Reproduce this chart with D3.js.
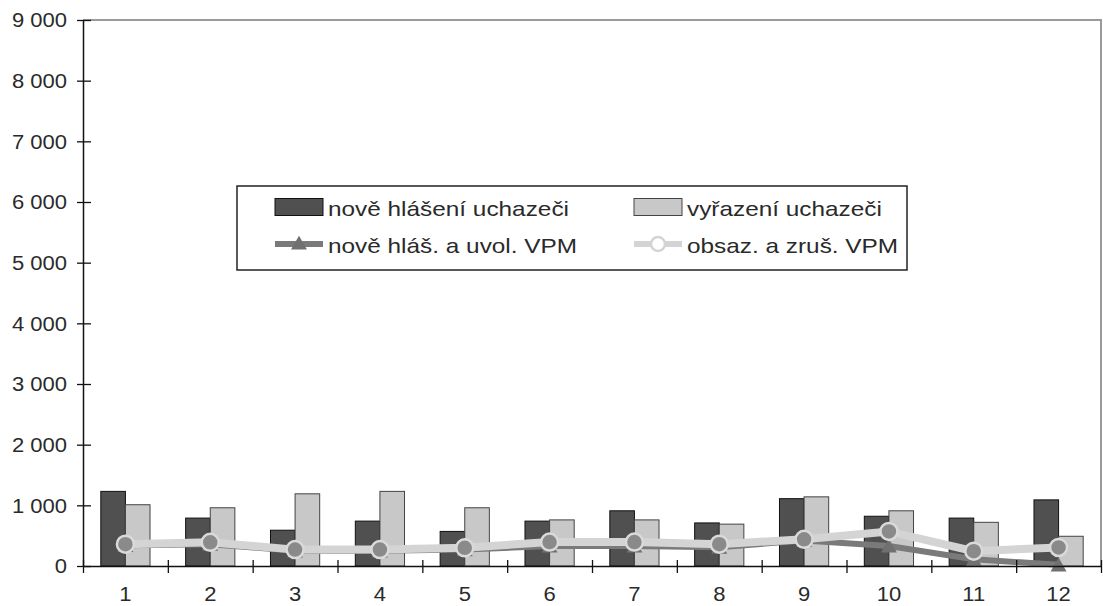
<!DOCTYPE html>
<html>
<head>
<meta charset="utf-8">
<script src="https://cdn.jsdelivr.net/npm/d3@7"></script>
<style>
  body { margin: 0; background: #fff; }
  svg { display: block; font-family: "Liberation Sans", Arial, sans-serif; }
</style>
</head>
<body>
<div id="chart"></div>
<script>
// months 1..12
const categories = ["1", "2", "3", "4", "5", "6", "7", "8", "9", "10", "11", "12"];
const noveHlaseni = [1230, 790, 590, 740, 570, 740, 910, 710, 1110, 820, 790, 1090];
const vyrazeni = [1010, 960, 1190, 1230, 960, 760, 760, 690, 1140, 910, 720, 490];
const noveVPM = [340, 360, 250, 250, 270, 330, 330, 310, 420, 330, 110, 20];
const obsazVPM = [360, 390, 270, 270, 300, 395, 395, 360, 440, 570, 245, 305];
const yTicks = [0, 1000, 2000, 3000, 4000, 5000, 6000, 7000, 8000, 9000];
const seriesNames = ["nově hlášení uchazeči", "vyřazení uchazeči", "nově hláš. a uvol. VPM", "obsaz. a zruš. VPM"];

const W = 1103, H = 606;
const plotL = 83, plotR = 1101, plotT = 20, plotB = 566;
const textColor = "#2a2a2a";
const stretch = 1.13;

const svg = d3.select("#chart").append("svg")
    .attr("width", W).attr("height", H);

const x0 = d3.scaleBand().domain(categories).range([plotL, plotR])
    .paddingInner(0.42).paddingOuter(0.21);
const x1 = d3.scaleBand().domain([0, 1]).range([0, x0.bandwidth()]);
const y = d3.scaleLinear().domain([0, 9000]).range([plotB, plotT]);
const cx = c => x0(c) + x0.bandwidth() / 2;

// plot frame (top + right)
svg.append("path")
    .attr("d", `M${plotL},${plotT}H${plotR}V${plotB}`)
    .attr("fill", "none").attr("stroke", "#9a9a9a").attr("stroke-width", 2);

// bars
const barData = categories.map((c, i) => [
    { c, s: 0, v: noveHlaseni[i] },
    { c, s: 1, v: vyrazeni[i] }
]).flat();

svg.append("g").selectAll("rect")
    .data(barData)
    .join("rect")
    .attr("x", d => x0(d.c) + x1(d.s))
    .attr("y", d => y(d.v))
    .attr("width", x1.bandwidth())
    .attr("height", d => y(0) - y(d.v))
    .attr("fill", d => d.s === 0 ? "#505050" : "#c8c8c8")
    .attr("stroke", d => d.s === 0 ? "#111" : "#444")
    .attr("stroke-width", 1);

// lines
const line = d3.line().x(d => cx(d[0])).y(d => y(d[1]));
const tri = d3.symbol().type(d3.symbolTriangle).size(110);

svg.append("path")
    .datum(categories.map((c, i) => [c, noveVPM[i]]))
    .attr("d", line)
    .attr("fill", "none").attr("stroke", "#7a7a7a").attr("stroke-width", 6);
svg.append("g").selectAll("path")
    .data(categories.map((c, i) => [c, noveVPM[i]]))
    .join("path")
    .attr("d", tri)
    .attr("transform", d => `translate(${cx(d[0])},${y(d[1]) + 2})`)
    .attr("fill", "#707070");

svg.append("path")
    .datum(categories.map((c, i) => [c, obsazVPM[i]]))
    .attr("d", line)
    .attr("fill", "none").attr("stroke", "#d4d4d4").attr("stroke-width", 8);
svg.append("g").selectAll("circle")
    .data(categories.map((c, i) => [c, obsazVPM[i]]))
    .join("circle")
    .attr("cx", d => cx(d[0]))
    .attr("cy", d => y(d[1]))
    .attr("r", 8.5)
    .attr("fill", "#8a8a8a")
    .attr("stroke", "#dadada").attr("stroke-width", 2.5);

// y axis
const fmt = d3.formatLocale({ decimal: ",", thousands: " ", grouping: [3], currency: ["", ""] }).format(",d");
const yAxis = svg.append("g")
    .attr("transform", `translate(${plotL},0)`)
    .call(d3.axisLeft(y).tickValues(yTicks).tickFormat(fmt).tickSizeOuter(0));
yAxis.select(".domain").attr("stroke", "#111").attr("stroke-width", 1.5);
yAxis.selectAll(".tick line").attr("x1", -6).attr("x2", 8).attr("stroke", "#111").attr("stroke-width", 1.3);
yAxis.selectAll(".tick text")
    .attr("x", 0).attr("dy", "0.35em")
    .attr("transform", `translate(-16,0) scale(${stretch},1)`)
    .attr("fill", textColor).style("font-size", "19.5px");

// x axis: ticks between categories, labels at centers
const xb = d3.scaleLinear().domain([0, categories.length]).range([plotL, plotR]);
const xAxis = svg.append("g")
    .attr("transform", `translate(0,${plotB})`)
    .call(d3.axisBottom(xb).tickValues(d3.range(0, categories.length + 1)).tickFormat("").tickSizeOuter(0));
xAxis.select(".domain").attr("stroke", "#111").attr("stroke-width", 1.5);
xAxis.selectAll(".tick line").attr("y1", -6).attr("y2", 7).attr("stroke", "#111").attr("stroke-width", 1.3);

svg.append("g").selectAll("text")
    .data(categories)
    .join("text")
    .attr("transform", d => `translate(${cx(d)},${plotB + 35}) scale(${stretch},1)`)
    .attr("text-anchor", "middle")
    .attr("fill", textColor)
    .style("font-size", "19.5px")
    .text(d => d);

// legend
const legend = svg.append("g").attr("transform", "translate(237,186)");
legend.append("rect")
    .attr("width", 670).attr("height", 84)
    .attr("fill", "#fff").attr("stroke", "#222").attr("stroke-width", 1.5);

const cols = [38, 397], rows = [21, 58];
const items = [
    { name: seriesNames[0], kind: "bar", color: "#505050", stroke: "#111" },
    { name: seriesNames[1], kind: "bar", color: "#c8c8c8", stroke: "#444" },
    { name: seriesNames[2], kind: "tri" },
    { name: seriesNames[3], kind: "circle" }
];
items.forEach((it, i) => {
    const g = legend.append("g")
        .attr("transform", `translate(${cols[i % 2]},${rows[Math.floor(i / 2)]})`);
    if (it.kind === "bar") {
        g.append("rect").attr("x", 0).attr("y", -8.5).attr("width", 48).attr("height", 17)
            .attr("fill", it.color).attr("stroke", it.stroke);
    } else if (it.kind === "tri") {
        g.append("line").attr("x1", 0).attr("x2", 48).attr("y1", 0).attr("y2", 0)
            .attr("stroke", "#7a7a7a").attr("stroke-width", 6);
        g.append("path").attr("d", tri).attr("transform", "translate(24,1)").attr("fill", "#707070");
    } else {
        g.append("line").attr("x1", 0).attr("x2", 48).attr("y1", 0).attr("y2", 0)
            .attr("stroke", "#d4d4d4").attr("stroke-width", 6);
        g.append("circle").attr("cx", 24).attr("cy", 0).attr("r", 7)
            .attr("fill", "#fff").attr("stroke", "#d4d4d4").attr("stroke-width", 2.5);
    }
    g.append("text")
        .attr("transform", `translate(53,9) scale(1.16,1)`)
        .attr("fill", textColor)
        .style("font-size", "21px")
        .text(it.name);
});
</script>
</body>
</html>
